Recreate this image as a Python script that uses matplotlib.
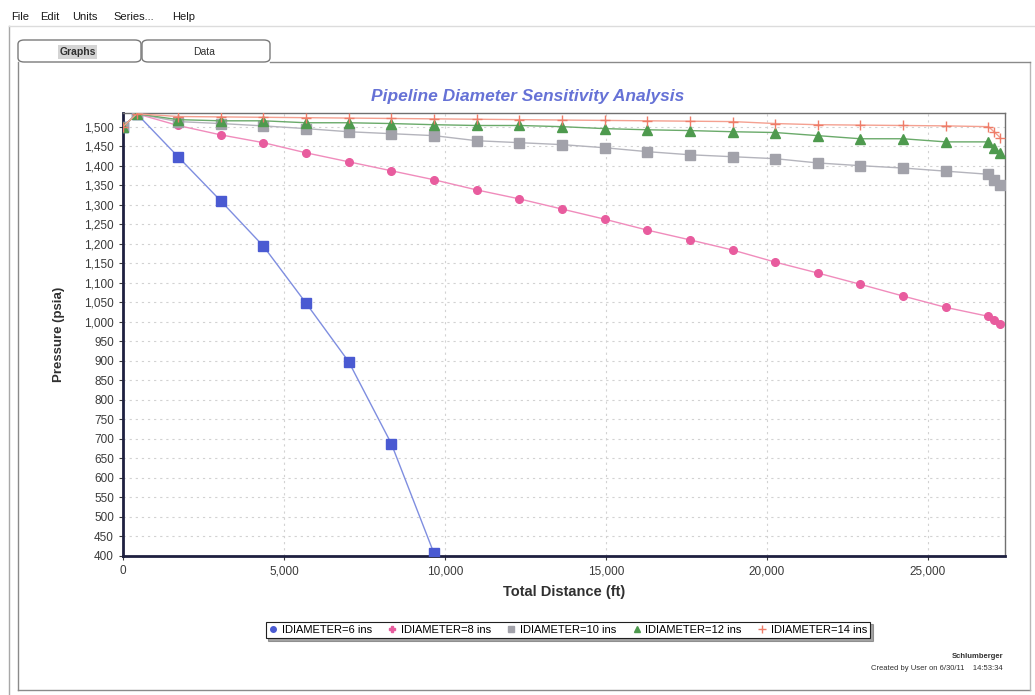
import matplotlib
matplotlib.use("Agg")
import matplotlib.pyplot as plt
from matplotlib.lines import Line2D
from matplotlib.patches import FancyBboxPatch
from matplotlib.ticker import MultipleLocator, FuncFormatter

# pressure profile along the line for each pipe diameter
distance_ft = [0, 430, 1710, 3035, 4360, 5685, 7010, 8335, 9660, 10985, 12310, 13635,
               14960, 16285, 17610, 18935, 20260, 21585, 22910, 24235, 25560, 26885,
               27060, 27250]

p_6in = [1500, 1533, 1423, 1310, 1194, 1048, 898, 688, 407]
p_8in = [1500, 1533, 1503, 1479, 1459, 1433, 1410, 1387, 1364, 1338, 1315, 1289,
         1263, 1235, 1210, 1184, 1153, 1125, 1096, 1066, 1037, 1014, 1005, 995]
p_10in = [1500, 1533, 1513, 1508, 1502, 1495, 1487, 1482, 1477, 1464, 1459, 1454,
          1446, 1436, 1428, 1423, 1418, 1407, 1400, 1394, 1386, 1378, 1364, 1351]
p_12in = [1500, 1533, 1518, 1515, 1515, 1510, 1510, 1508, 1505, 1503, 1503, 1500,
          1495, 1492, 1490, 1487, 1485, 1477, 1469, 1469, 1461, 1461, 1446, 1433]
p_14in = [1500, 1533, 1526, 1525, 1524, 1523, 1522, 1521, 1520, 1519, 1518, 1517,
          1516, 1515, 1514, 1513, 1508, 1505, 1504, 1503, 1502, 1500, 1487, 1472]

series_labels = ["IDIAMETER=6 ins", "IDIAMETER=8 ins", "IDIAMETER=10 ins",
                 "IDIAMETER=12 ins", "IDIAMETER=14 ins"]
menu_items = ["File", "Edit", "Units", "Series...", "Help"]

W, H = 1035, 695
ARIAL = ["Liberation Sans", "DejaVu Sans"]

fig = plt.figure(figsize=(W / 100, H / 100), dpi=100)
fig.patch.set_facecolor("white")


def fx(x):
    return x / W


def fy(y):
    return 1 - y / H


def hline(x0, x1, y, color="#9a9a9a", lw=1.0):
    fig.add_artist(Line2D([fx(x0), fx(x1)], [fy(y), fy(y)], color=color, lw=lw,
                          transform=fig.transFigure))


def vline(x, y0, y1, color="#9a9a9a", lw=1.0):
    fig.add_artist(Line2D([fx(x), fx(x)], [fy(y0), fy(y1)], color=color, lw=lw,
                          transform=fig.transFigure))


# window frame, menu bar and tabs
vline(9, 26, 694, "#a8a8a8")
hline(9, 1035, 26, "#dcdcdc")
menu_x = [11, 40, 72, 113, 172]
for label, x in zip(menu_items, menu_x):
    fig.text(fx(x), fy(17), label, fontsize=8, family=ARIAL, va="center",
             color="#1a1a1a")

vline(18, 62, 690, "#8a8a8a")
hline(18, 1030, 690, "#8a8a8a")
vline(1030, 62, 690, "#b8b8b8")
hline(270, 1030, 62, "#8a8a8a")
for x0, x1, text, bold in [(18, 141, "Graphs", True), (142, 270, "Data", False)]:
    tab = FancyBboxPatch((fx(x0), fy(62)), fx(x1 - x0), 22 / H,
                         boxstyle="round,pad=0,rounding_size=0.006",
                         transform=fig.transFigure, facecolor="white",
                         edgecolor="#7a7a7a", lw=1.0)
    fig.add_artist(tab)
    fig.text(fx((x0 + x1) / 2 - 2), fy(52), text, fontsize=7.5, family=ARIAL,
             ha="center", va="center", weight="bold" if bold else "normal",
             color="#303030",
             bbox=dict(facecolor="#d4d4d4", edgecolor="none", pad=1.2) if bold else None)

# plot area
ax = fig.add_axes([fx(123), fy(556), fx(1005) - fx(123), (556 - 113) / H])
ax.set_facecolor("white")

ax.plot(distance_ft[:len(p_6in)], p_6in, color="#7f8ee0", lw=1.0, marker="s",
        ms=7.5, mfc="#4a5ad2", mec="#4a5ad2", zorder=3)
ax.plot(distance_ft, p_8in, color="#f08cbc", lw=1.0, marker="o",
        ms=5.5, mfc="#e85c9e", mec="#e85c9e", zorder=3)
ax.plot(distance_ft, p_10in, color="#b4b4bc", lw=1.0, marker="s",
        ms=6.5, mfc="#a2a2aa", mec="#a2a2aa", zorder=3)
ax.plot(distance_ft, p_12in, color="#6aaa6a", lw=1.0, marker="^",
        ms=6.5, mfc="#4e9a4e", mec="#4e9a4e", zorder=4)
ax.plot(distance_ft, p_14in, color="#f4a090", lw=1.0, marker="+",
        ms=7, mew=1.0, mec="#ee7c68", zorder=5)

ax.set_xlim(0, 27400)
ax.set_ylim(400, 1535)
ax.xaxis.set_major_locator(MultipleLocator(5000))
ax.yaxis.set_major_locator(MultipleLocator(50))
comma = FuncFormatter(lambda v, pos: f"{v:,.0f}")
ax.xaxis.set_major_formatter(comma)
ax.yaxis.set_major_formatter(comma)
ax.grid(True, color="#d2d2d2", linestyle=(0, (2, 3.5)), lw=0.8)
ax.tick_params(axis="both", labelsize=8.5, colors="#3a3a3a", length=3, width=0.8)
for lab in ax.get_xticklabels() + ax.get_yticklabels():
    lab.set_family(ARIAL)

for side in ("left", "bottom"):
    ax.spines[side].set_color("#1e2040")
    ax.spines[side].set_linewidth(2.0)
for side in ("top", "right"):
    ax.spines[side].set_color("#707070")
    ax.spines[side].set_linewidth(1.0)

ax.set_xlabel("Total Distance (ft)", fontsize=10.5, weight="bold", family=ARIAL,
              color="#303030", labelpad=6)
ax.set_ylabel("Pressure (psia)", fontsize=9.5, weight="bold", family=ARIAL,
              color="#303030", labelpad=14)
fig.text(fx(528), fy(96), "Pipeline Diameter Sensitivity Analysis", fontsize=12.5,
         weight="bold", style="italic", family=ARIAL, color="#6672d6",
         ha="center", va="center")

handles = [
    Line2D([], [], ls="none", marker="o", ms=4, color="#4a5ad2"),
    Line2D([], [], ls="none", marker="P", ms=4, color="#e85c9e"),
    Line2D([], [], ls="none", marker="s", ms=4, color="#a2a2aa"),
    Line2D([], [], ls="none", marker="^", ms=4, color="#4e9a4e"),
    Line2D([], [], ls="none", marker="+", ms=6, color="#ee7c68"),
]
leg = fig.legend(handles, series_labels, loc="center", ncol=5,
                 bbox_to_anchor=(fx(568), fy(630)),
                 prop={"family": ARIAL, "size": 8}, frameon=True, fancybox=False,
                 shadow=True, handlelength=0.8, handletextpad=0.4,
                 columnspacing=1.4, borderpad=0.3, edgecolor="#202020")
leg.get_frame().set_linewidth(0.8)

fig.text(fx(1003), fy(656), "Schlumberger", fontsize=5.5, family=ARIAL,
         weight="bold", ha="right", va="center", color="#303030")
fig.text(fx(1003), fy(668), "Created by User on 6/30/11    14:53:34", fontsize=5.5,
         family=ARIAL, ha="right", va="center", color="#303030")

fig.savefig("out.png", dpi=100)
